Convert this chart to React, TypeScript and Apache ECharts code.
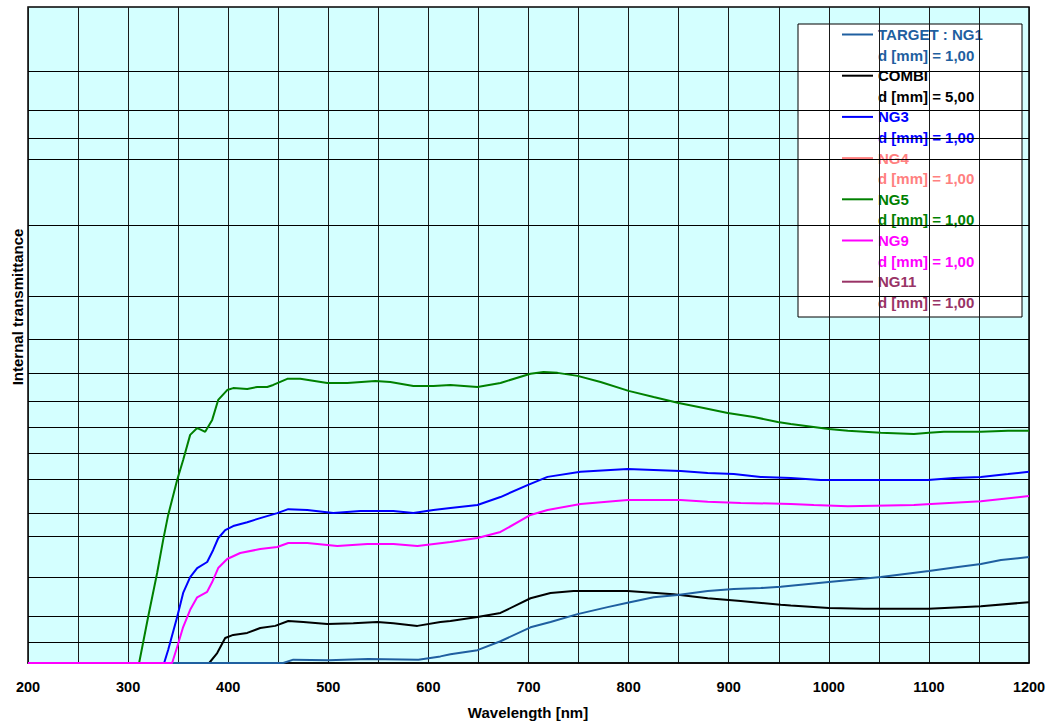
import React, { useEffect, useRef } from "react";
import * as echarts from "echarts";

// ---- data: [wavelength nm, internal transmittance] ----
const TARGET_NG1: [number, number][] = [
  [200, 0], [455, 0], [465, 1.5e-5], [500, 1.4e-5], [540, 1.6e-5], [590, 1.5e-5], [612, 2.2e-5],
  [622, 2.8e-5], [649, 4.4e-5], [672, 1.1e-4], [702, 3.9e-4], [722, 6.0e-4], [749, 1.1e-3],
  [779, 1.8e-3], [799, 2.4e-3], [825, 3.4e-3], [849, 3.9e-3], [879, 4.9e-3], [905, 5.5e-3],
  [932, 5.8e-3], [952, 6.2e-3], [962, 6.6e-3], [1000, 8.0e-3], [1052, 0.0103], [1100, 0.0137],
  [1129, 0.0164], [1152, 0.0187], [1172, 0.0221], [1200, 0.025],
];
const COMBI: [number, number][] = [
  [200, 0], [381, 0], [389, 3.2e-5], [397, 1.5e-4], [405, 2.0e-4], [419, 2.4e-4], [432, 3.7e-4],
  [447, 4.4e-4], [460, 6.5e-4], [475, 6.0e-4], [499, 5.1e-4], [525, 5.5e-4], [549, 6.0e-4],
  [565, 5.5e-4], [589, 4.4e-4], [612, 6.0e-4], [622, 6.5e-4], [649, 8.9e-4], [672, 1.2e-3],
  [702, 3.2e-3], [722, 4.4e-3], [745, 4.9e-3], [799, 4.9e-3], [845, 4.1e-3], [879, 3.2e-3],
  [912, 2.7e-3], [952, 2.1e-3], [962, 2.0e-3], [1000, 1.7e-3], [1035, 1.6e-3], [1100, 1.6e-3],
  [1152, 1.9e-3], [1200, 2.5e-3],
];
const NG3: [number, number][] = [
  [200, 0], [336, 0], [340, 4.5e-5], [349, 8.9e-4], [355, 0.0044], [362, 0.0103], [369, 0.0157],
  [379, 0.0204], [385, 0.0327], [390, 0.049], [397, 0.063], [405, 0.071], [419, 0.079],
  [432, 0.088], [449, 0.1], [460, 0.11], [479, 0.108], [505, 0.1], [532, 0.105], [565, 0.105],
  [585, 0.1], [605, 0.108], [622, 0.113], [649, 0.121], [672, 0.144], [699, 0.182], [719, 0.21],
  [752, 0.228], [799, 0.238], [825, 0.235], [852, 0.231], [879, 0.224], [905, 0.22], [932, 0.21],
  [962, 0.206], [992, 0.199], [1052, 0.199], [1099, 0.199], [1125, 0.206], [1152, 0.21],
  [1179, 0.22], [1200, 0.228],
];
const NG4: [number, number][] = [];
const NG5: [number, number][] = [
  [200, 0], [311, 0], [320, 8.9e-4], [329, 0.0125], [335, 0.046], [340, 0.095], [349, 0.199],
  [355, 0.272], [362, 0.37], [369, 0.397], [373, 0.39], [377, 0.382], [384, 0.429], [390, 0.505],
  [399, 0.541], [405, 0.548], [419, 0.545], [429, 0.552], [439, 0.552], [445, 0.559], [459, 0.58],
  [472, 0.58], [499, 0.566], [519, 0.566], [547, 0.573], [562, 0.569], [585, 0.555], [605, 0.555],
  [622, 0.559], [649, 0.552], [672, 0.566], [702, 0.597], [715, 0.603], [729, 0.6], [749, 0.59],
  [772, 0.569], [800, 0.538], [825, 0.516], [850, 0.494], [875, 0.475], [899, 0.456], [925, 0.44],
  [949, 0.421], [962, 0.413], [1000, 0.393], [1019, 0.386], [1052, 0.378], [1085, 0.374],
  [1100, 0.378], [1115, 0.382], [1152, 0.382], [1179, 0.386], [1200, 0.386],
];
const NG9: [number, number][] = [
  [200, 0], [344, 0], [349, 6.2e-5], [355, 4.0e-4], [362, 0.0015], [369, 0.0034], [379, 0.0047],
  [384, 0.008], [390, 0.0157], [399, 0.0231], [412, 0.0292], [432, 0.0338], [449, 0.0364],
  [460, 0.0419], [479, 0.0419], [509, 0.0377], [539, 0.0405], [565, 0.0405], [589, 0.0377],
  [622, 0.0433], [649, 0.0494], [672, 0.0596], [702, 0.0954], [719, 0.108], [752, 0.124],
  [799, 0.135], [852, 0.135], [879, 0.13], [912, 0.127], [962, 0.124], [985, 0.121], [1019, 0.118],
  [1085, 0.121], [1102, 0.124], [1152, 0.132], [1200, 0.147],
];
const NG11: [number, number][] = [];

const SERIES_NAMES = ["TARGET : NG1", "COMBI", "NG3", "NG4", "NG5", "NG9", "NG11"];
const THICKNESS = ["1,00", "5,00", "1,00", "1,00", "1,00", "1,00", "1,00"];
const SERIES_DATA = [TARGET_NG1, COMBI, NG3, NG4, NG5, NG9, NG11];

// grid lines of the diabatic ordinate (transmittance values)
const Y_GRID = [0.98, 0.97, 0.96, 0.95, 0.9, 0.8, 0.7, 0.6, 0.5, 0.4, 0.3, 0.2, 0.1, 0.05, 0.01, 1e-3, 1e-4];
const Y_MIN_T = 1e-5;
const Y_MAX_T = 0.99;
const X_MIN = 200;
const X_MAX = 1200;
const X_STEP = 50;

// ---- styles ----
const COLORS = ["#1F5FA0", "#000000", "#0000FF", "#FF8080", "#008000", "#FF00FF", "#993366"];
const DRAW_ORDER = [1, 2, 3, 4, 6, 0, 5];
const FONT = "'Liberation Sans', Arial, Helvetica, sans-serif";

const D = (t: number) => {
  const v = Math.min(Y_MAX_T, Math.max(Y_MIN_T, t));
  return -Math.log10(-Math.log10(v));
};

export default function App() {
  const ref = useRef<HTMLDivElement>(null);
  useEffect(() => {
    if (!ref.current) return;
    const chart = echarts.init(ref.current, null, { renderer: "svg" });

    const series: any[] = [
      {
        type: "line",
        name: "grid",
        data: [],
        silent: true,
        z: 1,
        markLine: {
          z: 1,
          silent: true,
          symbol: "none",
          label: { show: false },
          animation: false,
          lineStyle: { color: "#000", width: 1, type: "solid" },
          emphasis: { disabled: true },
          data: Y_GRID.map((t) => ({ yAxis: D(t) })),
        },
      },
    ];
    DRAW_ORDER.forEach((i, k) => {
      series.push({
        type: "line",
        name: SERIES_NAMES[i],
        data: SERIES_DATA[i].map(([x, t]) => [x, D(t)]),
        showSymbol: false,
        silent: true,
        z: 3 + k,
        lineStyle: { color: COLORS[i], width: 2 },
        itemStyle: { color: COLORS[i] },
        emphasis: { disabled: true },
      });
    });

    const legendX = 798, legendY = 24, legendW = 224, legendH = 293;
    const rowY0 = 34.5, rowH = 20.6;
    const textStyle = (text: string, color: string) => ({
      text,
      fill: color,
      fontFamily: FONT,
      fontWeight: "bold",
      fontSize: 15,
      textAlign: "left",
      align: "left",
      verticalAlign: "middle",
      textVerticalAlign: "middle",
    });
    const legendChildren: any[] = [
      {
        type: "rect",
        shape: { x: legendX, y: legendY, width: legendW, height: legendH },
        style: { fill: "#fff", stroke: "#000", lineWidth: 1 },
      },
    ];
    SERIES_NAMES.forEach((name, i) => {
      const y1 = rowY0 + rowH * (2 * i);
      const y2 = rowY0 + rowH * (2 * i + 1);
      legendChildren.push({
        type: "line",
        shape: { x1: 842, y1, x2: 873, y2: y1 },
        style: { stroke: COLORS[i], lineWidth: 2 },
      });
      legendChildren.push({ type: "text", x: 878, y: y1, style: textStyle(name, COLORS[i]) });
      legendChildren.push({
        type: "text", x: 878, y: y2,
        style: textStyle(`d [mm] = ${THICKNESS[i]}`, COLORS[i]),
      });
    });

    chart.setOption({
      animation: false,
      backgroundColor: "#fff",
      grid: {
        left: 28, right: 21, top: 7, bottom: 63,
        show: true, backgroundColor: "#D4FFFF", borderColor: "#000", borderWidth: 1.5,
      },
      xAxis: {
        type: "value",
        min: X_MIN, max: X_MAX, interval: X_STEP,
        axisLine: { show: true, onZero: false, lineStyle: { color: "#000", width: 1.5 } },
        axisTick: { show: false },
        splitLine: { show: true, lineStyle: { color: "#1a1a1a", width: 1 } },
        axisLabel: {
          margin: 16,
          color: "#000",
          fontFamily: FONT,
          fontWeight: "bold",
          fontSize: 14.5,
          formatter: (v: number) => (v % 100 === 0 ? String(v) : ""),
        },
      },
      yAxis: {
        type: "value",
        min: D(Y_MIN_T), max: D(Y_MAX_T),
        axisLine: { show: false, onZero: false },
        axisTick: { show: false },
        axisLabel: { show: false },
        splitLine: { show: false },
      },
      series,
      graphic: [
        {
          type: "text",
          x: 528, y: 712,
          style: { ...textStyle("Wavelength [nm]", "#000"), textAlign: "center", align: "center" },
        },
        {
          type: "text",
          x: 17, y: 307,
          rotation: Math.PI / 2,
          style: { ...textStyle("Internal transmittance", "#000"), textAlign: "center", align: "center" },
        },
        { type: "group", children: legendChildren },
      ],
    });
    return () => chart.dispose();
  }, []);
  return (
    <div
      ref={ref}
      style={{ position: "fixed", left: 0, top: 0, width: 1050, height: 726 }}
    />
  );
}
